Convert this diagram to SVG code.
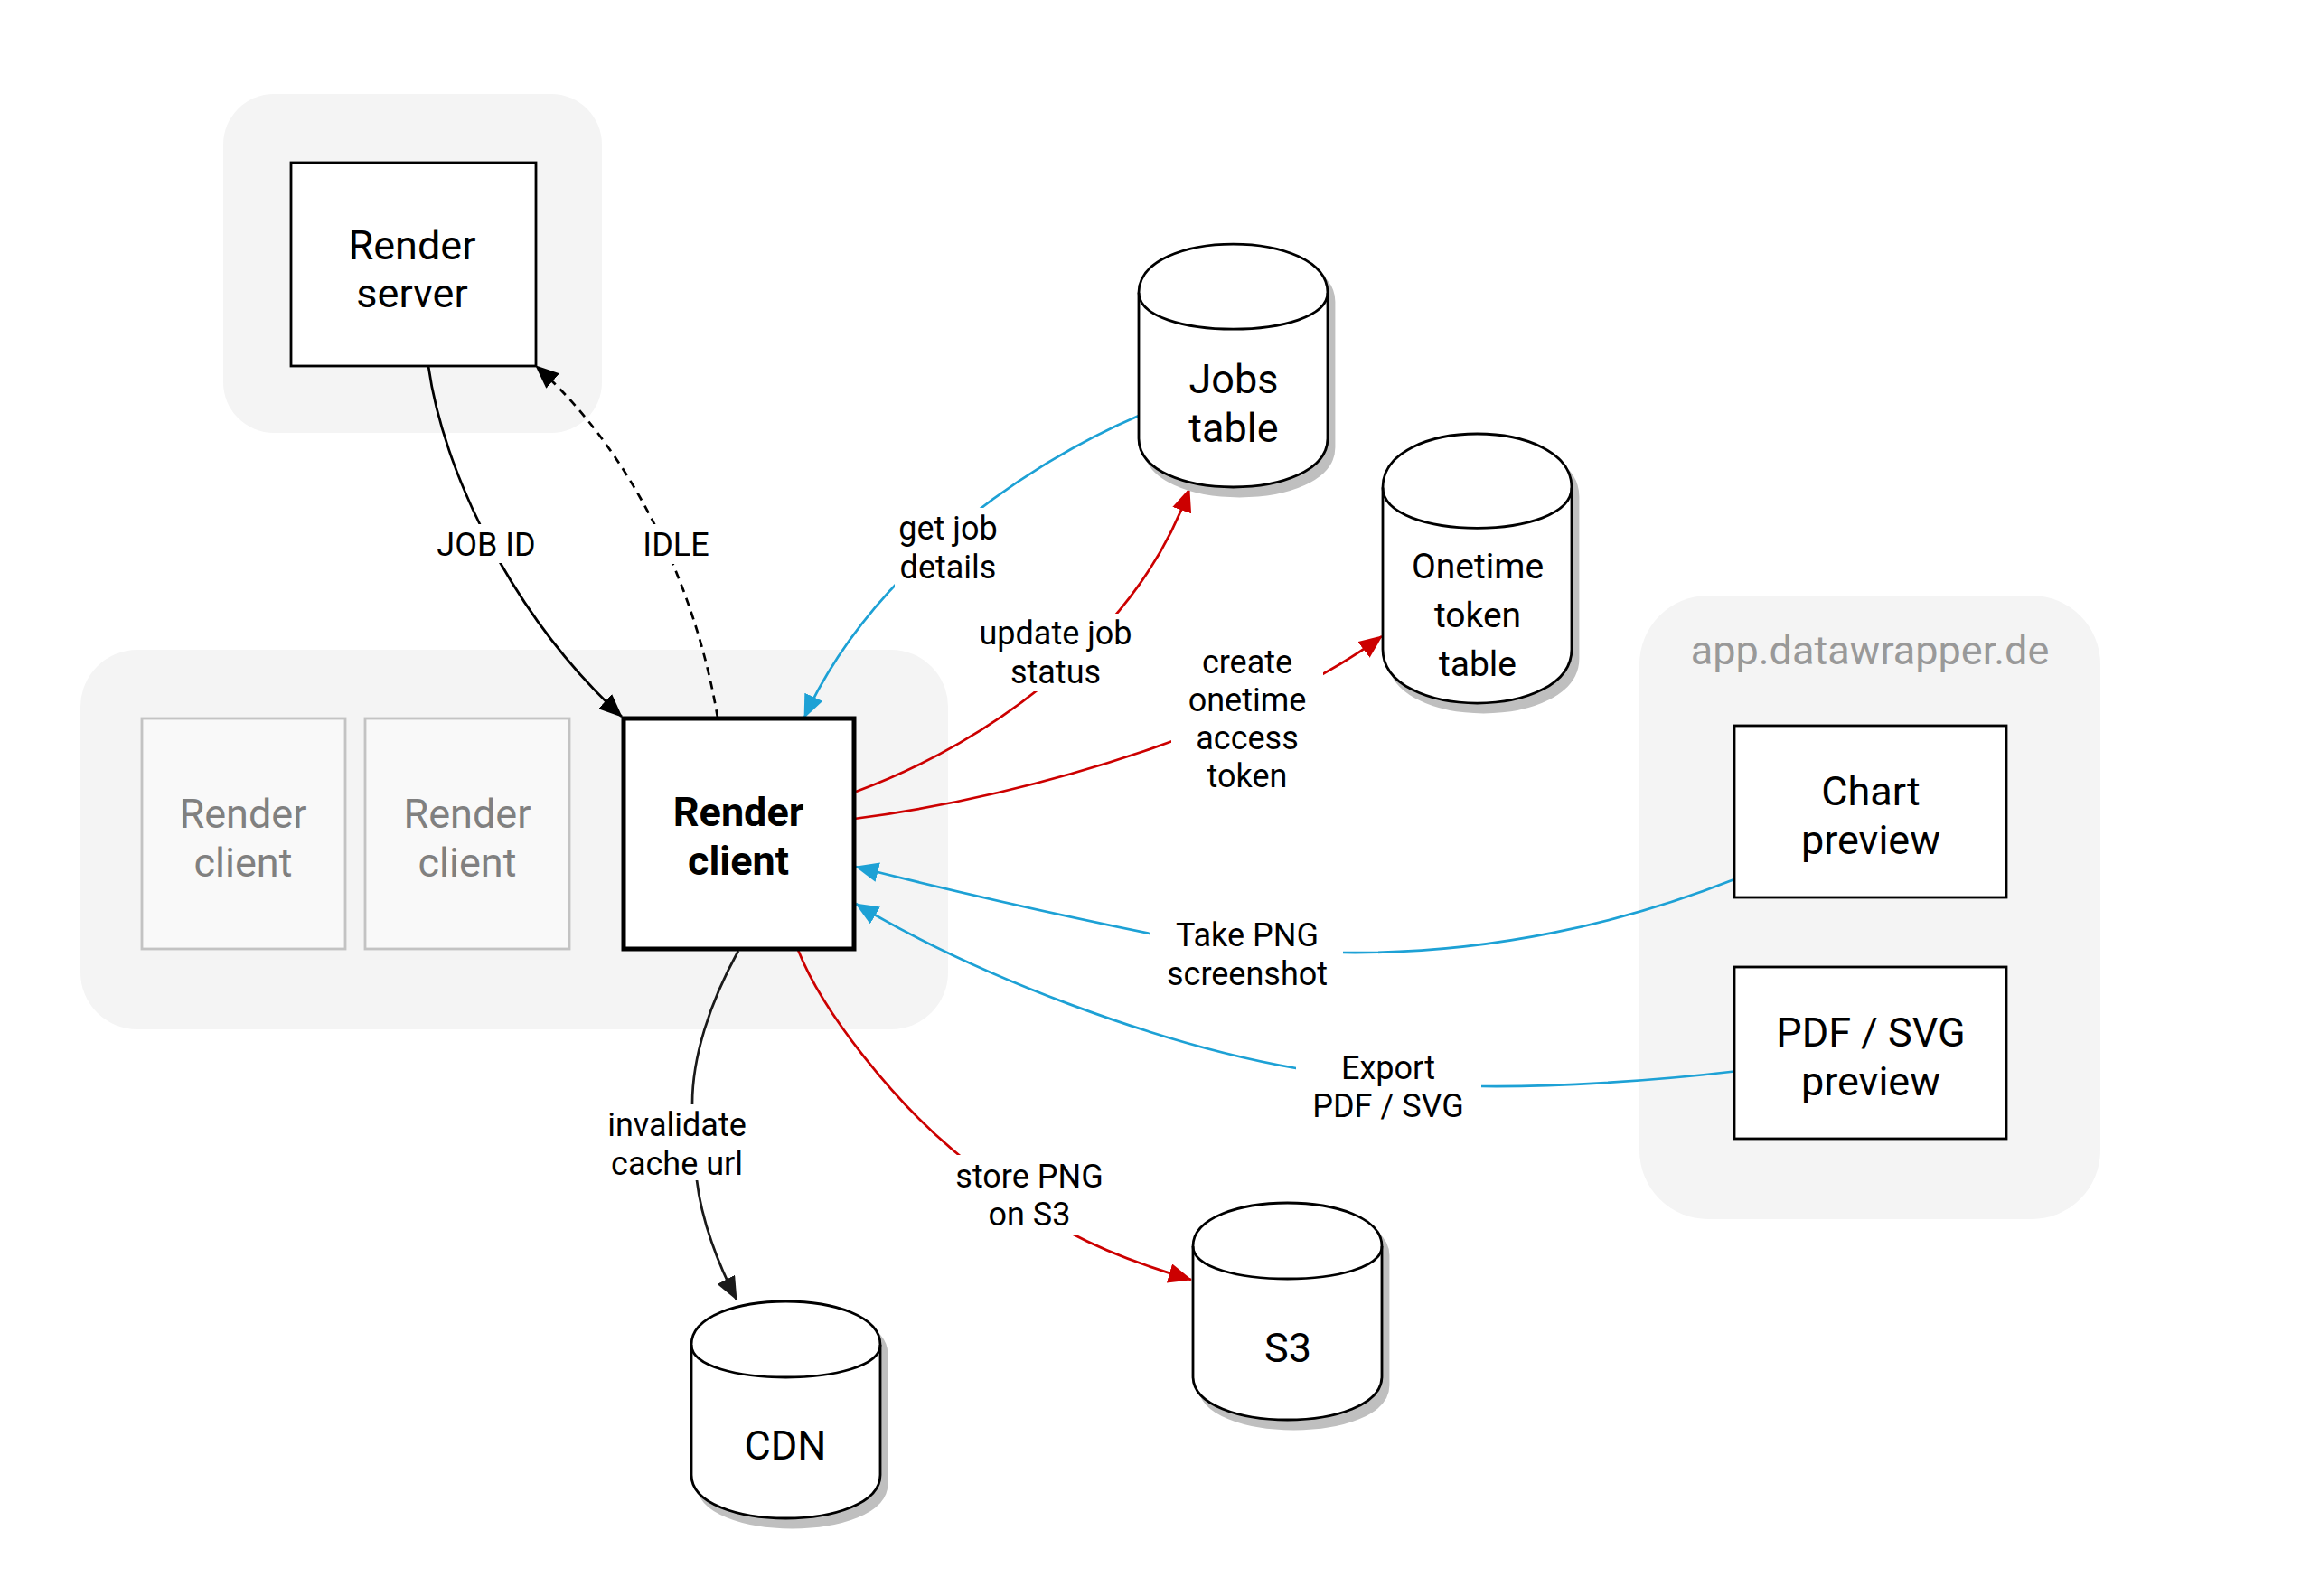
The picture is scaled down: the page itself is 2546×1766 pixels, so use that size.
<svg xmlns="http://www.w3.org/2000/svg" width="2546" height="1766" viewBox="0 0 2546 1766">
<defs>
<style>
text { font-family: Roboto, "Liberation Sans", sans-serif; }
.node { font-size: 45px; fill: #000; text-anchor: middle; }
.small { font-size: 39px; }
.bold { font-weight: bold; }
.ghosttxt { fill: #808080; }
.grplbl { font-size: 45px; fill: #999999; text-anchor: middle; }
.lbl { font-size: 36px; fill: #000; text-anchor: middle; }
.grp { fill: #f4f4f4; }
.box { fill: #fff; stroke: #000; stroke-width: 2.8; }
.boldbox { fill: #fff; stroke: #000; stroke-width: 5; }
.ghost { fill: #f9f9f9; stroke: #c3c3c3; stroke-width: 2.8; }
.cyl { fill: #fff; stroke: #000; stroke-width: 2.8; }
.cylf { fill: none; stroke: #000; stroke-width: 2.8; }
.shadow { fill: #bfbfbf; stroke: #bfbfbf; stroke-width: 2.8; }
.edge { fill: none; stroke-width: 2.7; }
.k { stroke: #000; }
.d { stroke: #1a1a1a; }
.b { stroke: #1da1d5; }
.r { stroke: #cc0000; }
.lblbg { fill: #fff; }
</style>
<marker id="ak" markerUnits="userSpaceOnUse" viewBox="0 0 26 22" refX="25" refY="11" markerWidth="26" markerHeight="22" orient="auto"><path d="M0,0 L26,11 L0,22 Z" fill="#000"/></marker>
<marker id="ad" markerUnits="userSpaceOnUse" viewBox="0 0 26 22" refX="25" refY="11" markerWidth="26" markerHeight="22" orient="auto"><path d="M0,0 L26,11 L0,22 Z" fill="#1a1a1a"/></marker>
<marker id="ab" markerUnits="userSpaceOnUse" viewBox="0 0 26 22" refX="25" refY="11" markerWidth="26" markerHeight="22" orient="auto"><path d="M0,0 L26,11 L0,22 Z" fill="#1da1d5"/></marker>
<marker id="ar" markerUnits="userSpaceOnUse" viewBox="0 0 26 22" refX="25" refY="11" markerWidth="26" markerHeight="22" orient="auto"><path d="M0,0 L26,11 L0,22 Z" fill="#cc0000"/></marker>
</defs>
<rect x="0" y="0" width="2546" height="1766" fill="#fff"/>

<g id="group-render-server"><rect class="grp" x="247" y="104" width="419" height="375" rx="56"/></g>
<g id="group-render-clients"><rect class="grp" x="89" y="719" width="960" height="420" rx="63"/></g>
<g id="group-app">
<rect class="grp" x="1814" y="659" width="510" height="690" rx="76"/>
<text class="grplbl" x="2069" y="735">app.datawrapper.de</text>
</g>

<g id="connectors">
<path class="edge k" d="M474,405 C490,520 565,680 688,793" marker-end="url(#ak)"/>
<path class="edge k" stroke-dasharray="9 7" d="M794,794 C770,650 700,500 593,405" marker-end="url(#ak)"/>
<path class="edge b" d="M1260,460 C1120,520 960,640 890,794" marker-end="url(#ab)"/>
<path class="edge r" d="M947,876 C1100,820 1260,700 1316,541" marker-end="url(#ar)"/>
<path class="edge r" d="M945,906 C1150,880 1400,800 1529,704" marker-end="url(#ar)"/>
<path class="edge b" d="M1919,973 C1800,1020 1650,1056 1486,1054 C1420,1053 1330,1045 1272,1033 C1170,1012 1050,985 947,959" marker-end="url(#ab)"/>
<path class="edge b" d="M1919,1185.5 C1830,1196 1720,1203 1639,1202 C1570,1201 1500,1194 1434,1182 C1280,1155 1080,1080 947,1000" marker-end="url(#ab)"/>
<path class="edge r" d="M883,1051 C910,1120 990,1220 1061,1278 C1100,1310 1140,1340 1184,1364 C1225,1386 1270,1402 1318,1416" marker-end="url(#ar)"/>
<path class="edge d" d="M817,1052 C785,1110 766,1170 766,1221 C766,1250 768,1280 771,1306 C776,1350 795,1400 815,1438" marker-end="url(#ad)"/>

<rect class="lblbg" x="482" y="580" width="112" height="43"/>
<text class="lbl" x="538" y="615">JOB ID</text>
<rect class="lblbg" x="708" y="580" width="80" height="44"/>
<text class="lbl" x="748" y="615">IDLE</text>
<rect class="lblbg" x="990" y="562" width="118" height="88"/>
<text class="lbl" x="1049" y="597">get job</text>
<text class="lbl" x="1049" y="640">details</text>
<rect class="lblbg" x="1085" y="679" width="166" height="86"/>
<text class="lbl" x="1168" y="713">update job</text>
<text class="lbl" x="1168" y="756">status</text>
<rect class="lblbg" x="1296" y="712" width="168" height="170"/>
<text class="lbl" x="1380" y="745">create</text>
<text class="lbl" x="1380" y="787">onetime</text>
<text class="lbl" x="1380" y="829">access</text>
<text class="lbl" x="1380" y="871">token</text>
<rect class="lblbg" x="1272" y="1014" width="214" height="86"/>
<text class="lbl" x="1380" y="1047">Take PNG</text>
<text class="lbl" x="1380" y="1090">screenshot</text>
<rect class="lblbg" x="1434" y="1161" width="205" height="86"/>
<text class="lbl" x="1536" y="1194">Export</text>
<text class="lbl" x="1536" y="1236">PDF / SVG</text>
<rect class="lblbg" x="1057" y="1278" width="164" height="88"/>
<text class="lbl" x="1139" y="1314">store PNG</text>
<text class="lbl" x="1139" y="1356">on S3</text>
<rect class="lblbg" x="673" y="1222" width="153" height="84"/>
<text class="lbl" x="749" y="1257">invalidate</text>
<text class="lbl" x="749" y="1300">cache url</text>
</g>

<g id="render-server">
<rect class="box" x="322" y="180" width="271" height="225"/>
<text class="node" x="456" y="287">Render</text>
<text class="node" x="456" y="340">server</text>
</g>

<g id="render-client-ghost-1">
<rect class="ghost" x="157" y="795" width="225" height="255"/>
<text class="node ghosttxt" x="269" y="916">Render</text>
<text class="node ghosttxt" x="269" y="970">client</text>
</g>
<g id="render-client-ghost-2">
<rect class="ghost" x="404" y="795" width="226" height="255"/>
<text class="node ghosttxt" x="517" y="916">Render</text>
<text class="node ghosttxt" x="517" y="970">client</text>
</g>
<g id="render-client">
<rect class="boldbox" x="690" y="795" width="255" height="255"/>
<text class="node bold" x="817" y="914">Render</text>
<text class="node bold" x="817" y="968">client</text>
</g>

<g id="jobs-table" transform="translate(1260,270)">
<path class="shadow" transform="translate(7,10)" d="M0,53.8 C0,-17.9 209,-17.9 209,53.8 L209,215.2 C209,286.9 0,286.9 0,215.2 Z"/>
<path class="cyl" d="M0,53.8 C0,-17.9 209,-17.9 209,53.8 L209,215.2 C209,286.9 0,286.9 0,215.2 Z"/>
<path class="cylf" d="M0,53.8 C0,107.6 209,107.6 209,53.8"/>
<text class="node" x="105" y="165">Jobs</text>
<text class="node" x="105" y="219">table</text>
</g>

<g id="onetime-token-table" transform="translate(1530,480)">
<path class="shadow" transform="translate(7,10)" d="M0,59.6 C0,-19.9 209,-19.9 209,59.6 L209,238.4 C209,317.9 0,317.9 0,238.4 Z"/>
<path class="cyl" d="M0,59.6 C0,-19.9 209,-19.9 209,59.6 L209,238.4 C209,317.9 0,317.9 0,238.4 Z"/>
<path class="cylf" d="M0,59.6 C0,119.2 209,119.2 209,59.6"/>
<text class="node small" x="105" y="159.5">Onetime</text>
<text class="node small" x="105" y="213.5">token</text>
<text class="node small" x="105" y="267.5">table</text>
</g>

<g id="s3" transform="translate(1320,1331)">
<path class="shadow" transform="translate(7,10)" d="M0,48 C0,-16 209,-16 209,48 L209,192 C209,256 0,256 0,192 Z"/>
<path class="cyl" d="M0,48 C0,-16 209,-16 209,48 L209,192 C209,256 0,256 0,192 Z"/>
<path class="cylf" d="M0,48 C0,96 209,96 209,48"/>
<text class="node" x="105" y="176">S3</text>
</g>

<g id="cdn" transform="translate(765,1440)">
<path class="shadow" transform="translate(7,10)" d="M0,48 C0,-16 209,-16 209,48 L209,192 C209,256 0,256 0,192 Z"/>
<path class="cyl" d="M0,48 C0,-16 209,-16 209,48 L209,192 C209,256 0,256 0,192 Z"/>
<path class="cylf" d="M0,48 C0,96 209,96 209,48"/>
<text class="node" x="104" y="175">CDN</text>
</g>

<g id="chart-preview">
<rect class="box" x="1919" y="803" width="301" height="190"/>
<text class="node" x="2070" y="891">Chart</text>
<text class="node" x="2070" y="945">preview</text>
</g>
<g id="pdf-svg-preview">
<rect class="box" x="1919" y="1070" width="301" height="190"/>
<text class="node" x="2070" y="1158">PDF / SVG</text>
<text class="node" x="2070" y="1212">preview</text>
</g>
</svg>
